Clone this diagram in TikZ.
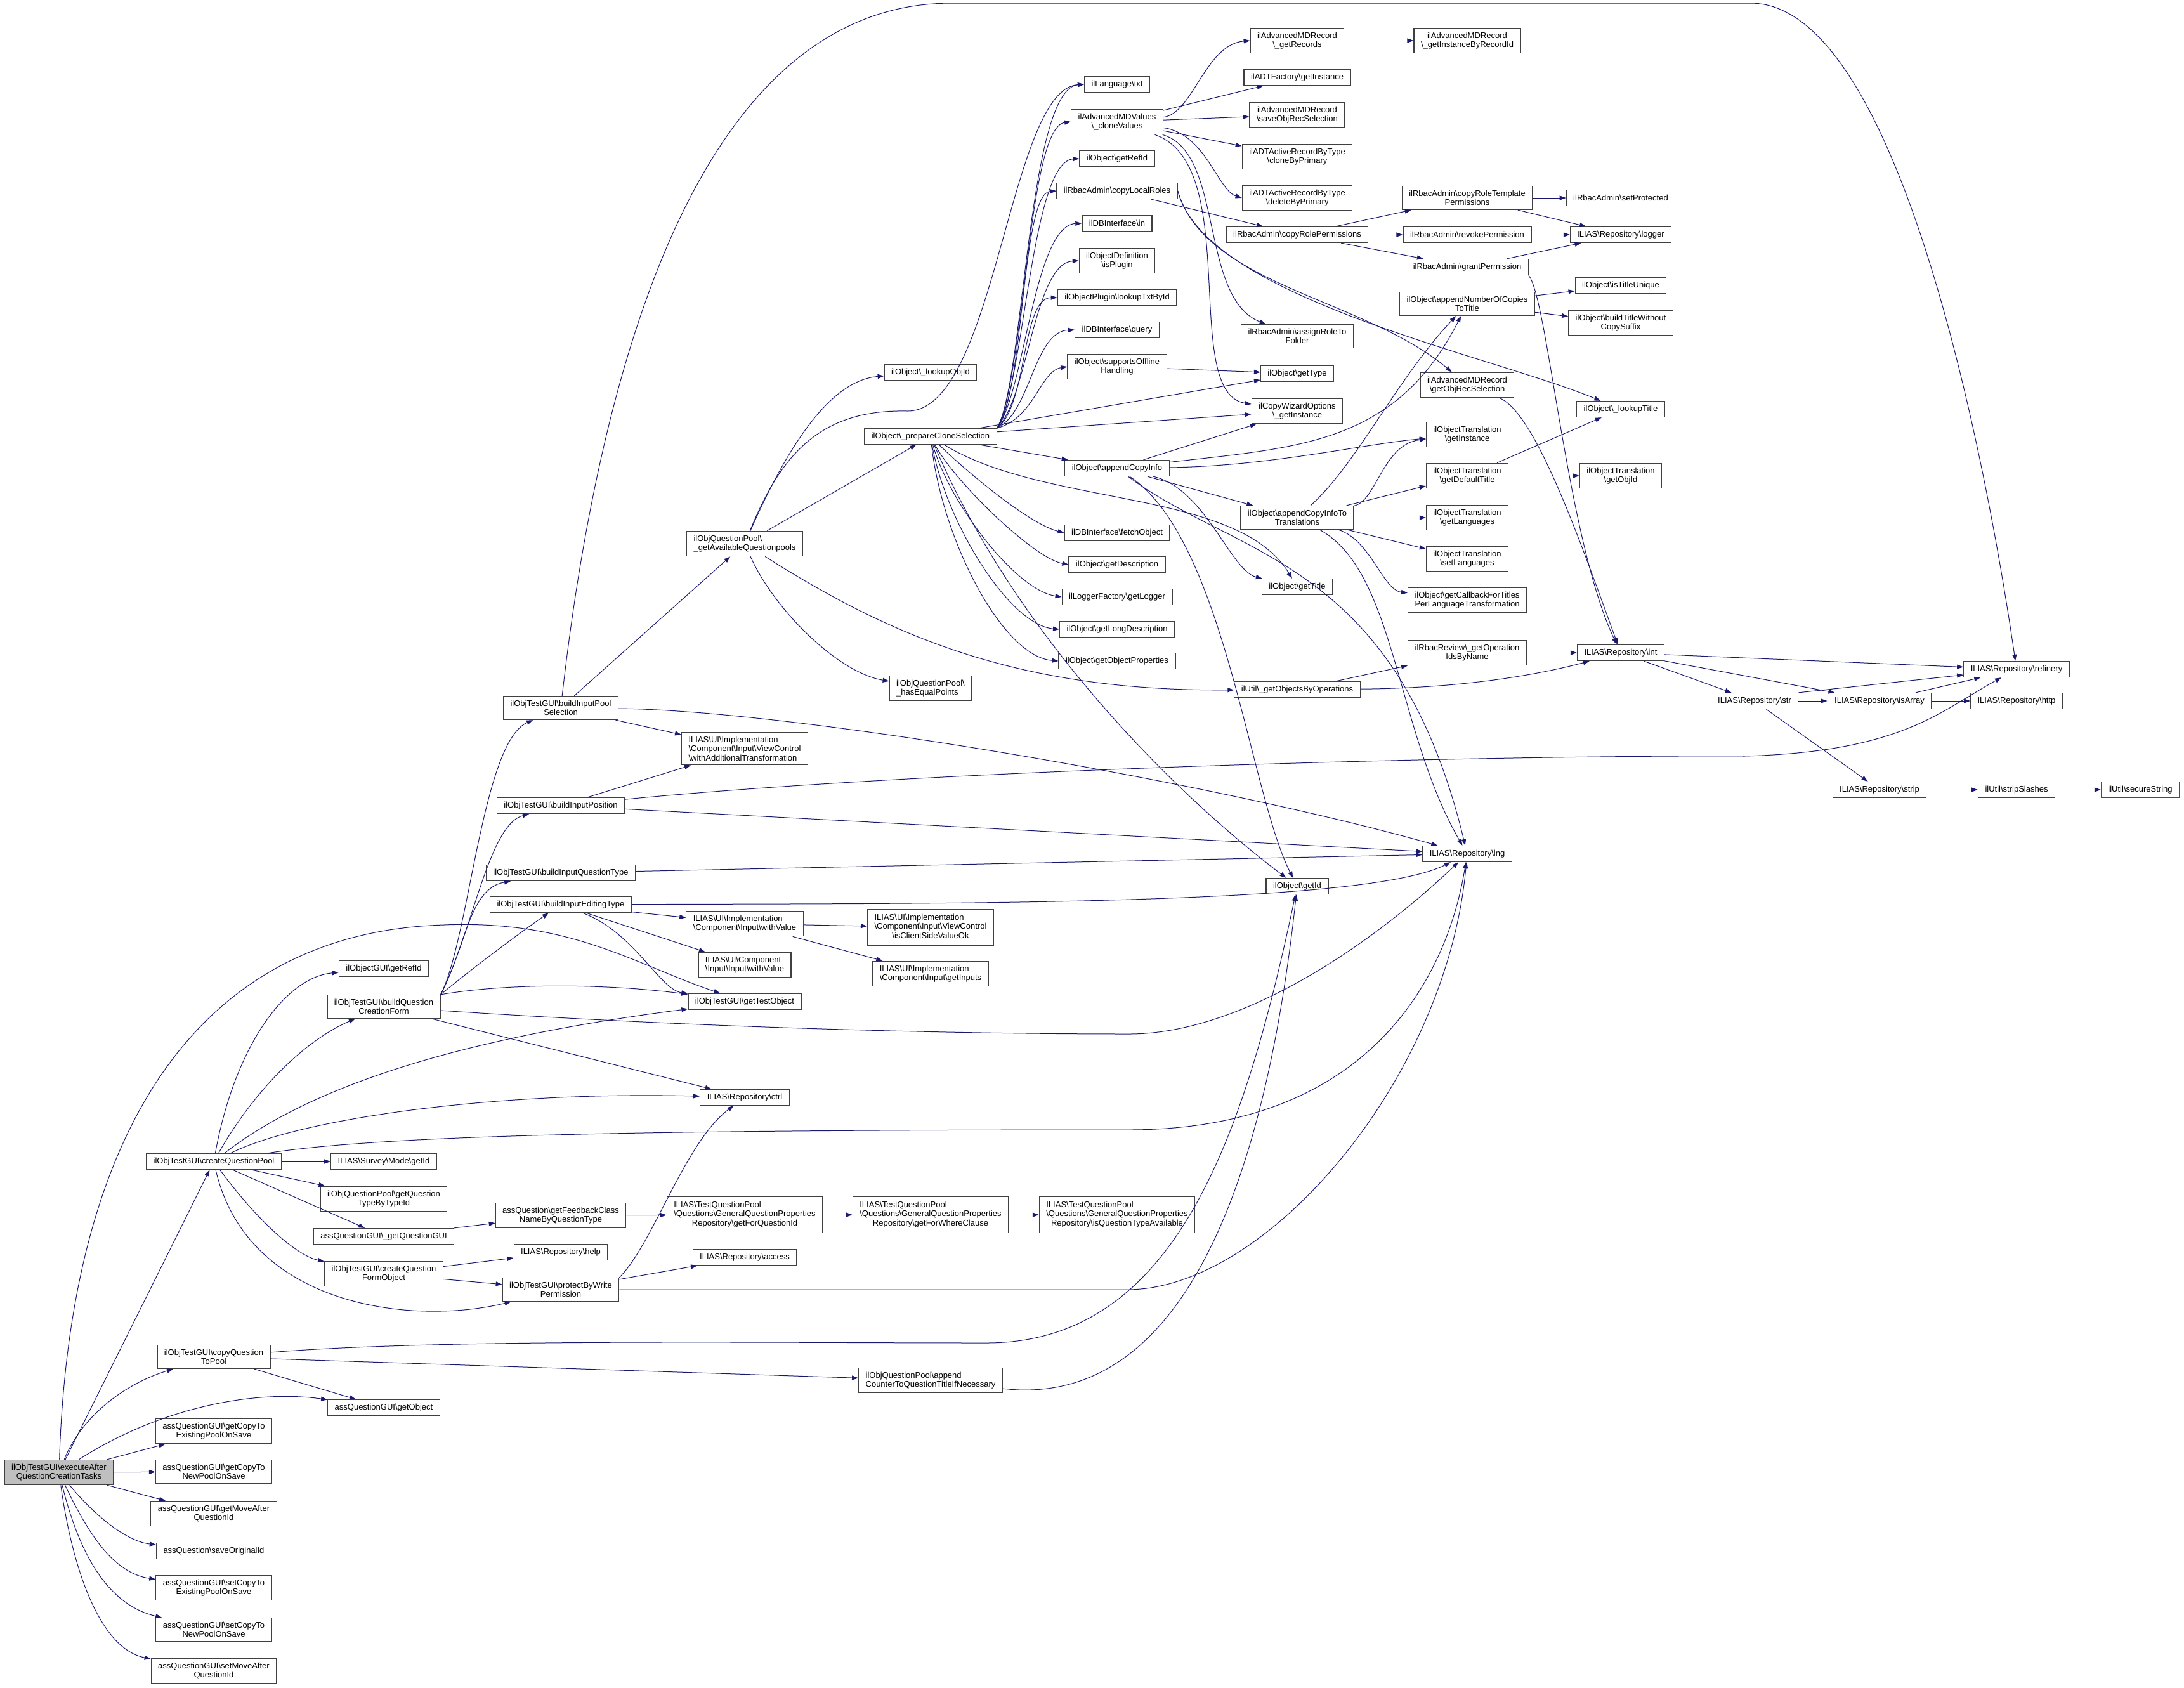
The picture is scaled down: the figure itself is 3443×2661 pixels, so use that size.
\documentclass[tikz,border=0pt]{standalone}
\usepackage{fontspec}
\setmainfont{Liberation Sans}
\usepackage{xcolor}
\usepackage{tikz}
\usetikzlibrary{arrows.meta, positioning}
\definecolor{DGedge}{RGB}{25,25,112}
\definecolor{DGframe}{RGB}{64,64,64}
\definecolor{DGroot}{RGB}{191,191,191}
\definecolor{DGred}{RGB}{255,0,0}
\newcommand{\bsl}{\textbackslash}
\newcommand{\lltc}[3]{\begin{tabular}{@{}l@{}}#1\\#2\\\multicolumn{1}{@{}c@{}}{#3}\end{tabular}}

\begin{document}
\begin{tikzpicture}[x=1pt, y=-1pt,
    fn/.style={draw=DGframe, line width=1.2pt, fill=white, align=center,
      font=\fontsize{13}{14.5}\selectfont, inner xsep=11pt, inner ysep=6.5pt,
      minimum height=25pt},
    fnl/.style={fn, align=left},
    rootfn/.style={fn, fill=DGroot},
    redfn/.style={fn, draw=DGred},
    call/.style={draw=DGedge, line width=1pt, -{Triangle[length=10pt,width=7pt]}}]
\useasboundingbox (0,0) rectangle (3443,2661);

\node[rootfn] (exec) at (93,2321) {ilObjTestGUI\bsl executeAfter\\QuestionCreationTasks};
\node[fn] (cqp) at (337,1831) {ilObjTestGUI\bsl createQuestionPool};
\node[fn] (cqtp) at (337,2139) {ilObjTestGUI\bsl copyQuestion\\ToPool};
\node[fn] (gcte) at (337,2256) {assQuestionGUI\bsl getCopyTo\\ExistingPoolOnSave};
\node[fn] (gctn) at (337,2320) {assQuestionGUI\bsl getCopyTo\\NewPoolOnSave};
\node[fn] (gmaq) at (337,2386) {assQuestionGUI\bsl getMoveAfter\\QuestionId};
\node[fn] (soid) at (337,2445) {assQuestion\bsl saveOriginalId};
\node[fn] (scte) at (337,2503) {assQuestionGUI\bsl setCopyTo\\ExistingPoolOnSave};
\node[fn] (sctn) at (337,2569) {assQuestionGUI\bsl setCopyTo\\NewPoolOnSave};
\node[fn] (smaq) at (337,2634) {assQuestionGUI\bsl setMoveAfter\\QuestionId};

\node[fn] (ogrid) at (605,1527) {ilObjectGUI\bsl getRefId};
\node[fn] (bqcf) at (605,1587) {ilObjTestGUI\bsl buildQuestion\\CreationForm};
\node[fn] (smgid) at (605,1831) {ILIAS\bsl Survey\bsl Mode\bsl getId};
\node[fn] (gqtt) at (605,1890) {ilObjQuestionPool\bsl getQuestion\\TypeByTypeId};
\node[fn] (gqgui) at (605,1949) {assQuestionGUI\bsl\_getQuestionGUI};
\node[fn] (cqfo) at (605,2008) {ilObjTestGUI\bsl createQuestion\\FormObject};
\node[fn] (gobj) at (605,2219) {assQuestionGUI\bsl getObject};

\node[fn] (bips) at (884,1116) {ilObjTestGUI\bsl buildInputPool\\Selection};
\node[fn] (bipo) at (884,1270) {ilObjTestGUI\bsl buildInputPosition};
\node[fn] (biqt) at (884,1376) {ilObjTestGUI\bsl buildInputQuestionType};
\node[fn] (biet) at (884,1426) {ilObjTestGUI\bsl buildInputEditingType};
\node[fn] (gfcn) at (884,1916) {assQuestion\bsl getFeedbackClass\\NameByQuestionType};
\node[fn] (help) at (884,1974) {ILIAS\bsl Repository\bsl help};
\node[fn] (pbw) at (884,2033) {ilObjTestGUI\bsl protectByWrite\\Permission};

\node[fnl] (gaqp) at (1174,857) {ilObjQuestionPool\bsl\\\_getAvailableQuestionpools};
\node[fnl] (wat) at (1174,1180) {ILIAS\bsl UI\bsl Implementation\\\bsl Component\bsl Input\bsl ViewControl\\\bsl withAdditionalTransformation};
\node[fnl] (iwv) at (1174,1456) {ILIAS\bsl UI\bsl Implementation\\\bsl Component\bsl Input\bsl withValue};
\node[fnl] (ciwv) at (1174,1521) {ILIAS\bsl UI\bsl Component\\\bsl Input\bsl Input\bsl withValue};
\node[fn] (gto) at (1174,1579) {ilObjTestGUI\bsl getTestObject};
\node[fn] (ctrl) at (1174,1730) {ILIAS\bsl Repository\bsl ctrl};
\node[fn] (gfqi) at (1174,1915) {\lltc{ILIAS\bsl TestQuestionPool}{\bsl Questions\bsl GeneralQuestionProperties}{Repository\bsl getForQuestionId}};
\node[fn] (acc) at (1174,1982) {ILIAS\bsl Repository\bsl access};

\node[fn] (lobj) at (1467,587) {ilObject\bsl\_lookupObjId};
\node[fn] (pcs) at (1467,688) {ilObject\bsl\_prepareCloneSelection};
\node[fnl] (hep) at (1467,1085) {ilObjQuestionPool\bsl\\\_hasEqualPoints};
\node[fn] (csvo) at (1467,1462) {\lltc{ILIAS\bsl UI\bsl Implementation}{\bsl Component\bsl Input\bsl ViewControl}{\bsl isClientSideValueOk}};
\node[fnl] (ginp) at (1467,1535) {ILIAS\bsl UI\bsl Implementation\\\bsl Component\bsl Input\bsl getInputs};
\node[fn] (gfwc) at (1467,1915) {\lltc{ILIAS\bsl TestQuestionPool}{\bsl Questions\bsl GeneralQuestionProperties}{Repository\bsl getForWhereClause}};
\node[fnl] (apc) at (1467,2176) {ilObjQuestionPool\bsl append\\CounterToQuestionTitleIfNecessary};

\node[fn] (txt) at (1761,133) {ilLanguage\bsl txt};
\node[fn] (clv) at (1761,192) {ilAdvancedMDValues\\\bsl\_cloneValues};
\node[fn] (orid) at (1761,250) {ilObject\bsl getRefId};
\node[fn] (clr) at (1761,301) {ilRbacAdmin\bsl copyLocalRoles};
\node[fn] (dbin) at (1761,352) {ilDBInterface\bsl in};
\node[fn] (isp) at (1761,411) {ilObjectDefinition\\\bsl isPlugin};
\node[fn] (ltbi) at (1761,469) {ilObjectPlugin\bsl lookupTxtById};
\node[fn] (dbq) at (1761,520) {ilDBInterface\bsl query};
\node[fn] (soh) at (1761,578) {ilObject\bsl supportsOffline\\Handling};
\node[fn] (aci) at (1761,738) {ilObject\bsl appendCopyInfo};
\node[fn] (fobj) at (1761,840) {ilDBInterface\bsl fetchObject};
\node[fn] (gdesc) at (1761,890) {ilObject\bsl getDescription};
\node[fn] (glog) at (1761,941) {ilLoggerFactory\bsl getLogger};
\node[fn] (gldesc) at (1761,992) {ilObject\bsl getLongDescription};
\node[fn] (gop) at (1761,1042) {ilObject\bsl getObjectProperties};
\node[fn] (iqta) at (1761,1915) {\lltc{ILIAS\bsl TestQuestionPool}{\bsl Questions\bsl GeneralQuestionProperties}{Repository\bsl isQuestionTypeAvailable}};

\node[fn] (grec) at (2045,64) {ilAdvancedMDRecord\\\bsl\_getRecords};
\node[fn] (adtf) at (2045,122) {ilADTFactory\bsl getInstance};
\node[fn] (sors) at (2045,181) {ilAdvancedMDRecord\\\bsl saveObjRecSelection};
\node[fn] (cbp) at (2045,247) {ilADTActiveRecordByType\\\bsl cloneByPrimary};
\node[fn] (dbp) at (2045,312) {ilADTActiveRecordByType\\\bsl deleteByPrimary};
\node[fn] (crp) at (2045,370) {ilRbacAdmin\bsl copyRolePermissions};
\node[fn] (artf) at (2045,530) {ilRbacAdmin\bsl assignRoleTo\\Folder};
\node[fn] (gtype) at (2045,589) {ilObject\bsl getType};
\node[fn] (cwo) at (2045,648) {ilCopyWizardOptions\\\bsl\_getInstance};
\node[fn] (acit) at (2045,816) {ilObject\bsl appendCopyInfoTo\\Translations};
\node[fn] (gtitle) at (2045,925) {ilObject\bsl getTitle};
\node[fn] (gobo) at (2045,1087) {ilUtil\bsl\_getObjectsByOperations};
\node[fn] (gid) at (2045,1397) {ilObject\bsl getId};

\node[fn] (gibr) at (2313,64) {ilAdvancedMDRecord\\\bsl\_getInstanceByRecordId};
\node[fn] (crtp) at (2313,312) {ilRbacAdmin\bsl copyRoleTemplate\\Permissions};
\node[fn] (rvp) at (2313,370) {ilRbacAdmin\bsl revokePermission};
\node[fn] (grp) at (2313,421) {ilRbacAdmin\bsl grantPermission};
\node[fn] (anct) at (2313,479) {ilObject\bsl appendNumberOfCopies\\ToTitle};
\node[fn] (gors) at (2313,607) {ilAdvancedMDRecord\\\bsl getObjRecSelection};
\node[fn] (otgi) at (2313,685) {ilObjectTranslation\\\bsl getInstance};
\node[fn] (otdt) at (2313,750) {ilObjectTranslation\\\bsl getDefaultTitle};
\node[fn] (otgl) at (2313,816) {ilObjectTranslation\\\bsl getLanguages};
\node[fn] (otsl) at (2313,881) {ilObjectTranslation\\\bsl setLanguages};
\node[fn] (gcbt) at (2313,946) {ilObject\bsl getCallbackForTitles\\PerLanguageTransformation};
\node[fn] (goin) at (2313,1029) {ilRbacReview\bsl\_getOperation\\IdsByName};
\node[fn] (lng) at (2313,1346) {ILIAS\bsl Repository\bsl lng};

\node[fn] (sprot) at (2555,312) {ilRbacAdmin\bsl setProtected};
\node[fn] (logger) at (2555,370) {ILIAS\bsl Repository\bsl logger};
\node[fn] (itu) at (2555,450) {ilObject\bsl isTitleUnique};
\node[fn] (btwc) at (2555,509) {ilObject\bsl buildTitleWithout\\CopySuffix};
\node[fn] (ltit) at (2555,645) {ilObject\bsl\_lookupTitle};
\node[fn] (otoi) at (2555,750) {ilObjectTranslation\\\bsl getObjId};
\node[fn] (int) at (2555,1029) {ILIAS\bsl Repository\bsl int};

\node[fn] (str) at (2766,1105) {ILIAS\bsl Repository\bsl str};
\node[fn] (isarr) at (2963,1105) {ILIAS\bsl Repository\bsl isArray};
\node[fn] (strip) at (2963,1245) {ILIAS\bsl Repository\bsl strip};
\node[fn] (ref) at (3179,1055) {ILIAS\bsl Repository\bsl refinery};
\node[fn] (http) at (3179,1105) {ILIAS\bsl Repository\bsl http};
\node[fn] (sslash) at (3179,1245) {ilUtil\bsl stripSlashes};
\node[redfn] (sstr) at (3374,1245) {ilUtil\bsl secureString};

% calls of the root
\draw[call] (exec) .. controls (110,1800) and (300,1470) .. (700,1458) .. controls (900,1450) and (1000,1520) .. (gto);
\draw[call] (exec) -- (cqp);
\draw[call] (exec) .. controls (130,2230) and (200,2180) .. (cqtp);
\draw[call] (exec) .. controls (250,2220) and (400,2190) .. (gobj);
\draw[call] (exec) -- (gcte);
\draw[call] (exec) -- (gctn);
\draw[call] (exec) -- (gmaq);
\draw[call] (exec) .. controls (150,2390) and (200,2430) .. (soid);
\draw[call] (exec) .. controls (140,2420) and (180,2480) .. (scte);
\draw[call] (exec) .. controls (125,2450) and (170,2530) .. (sctn);
\draw[call] (exec) .. controls (115,2480) and (160,2600) .. (smaq);

\draw[call] (cqp) .. controls (370,1650) and (450,1540) .. (ogrid);
\draw[call] (cqp) .. controls (400,1720) and (480,1640) .. (bqcf);
\draw[call] (cqp) .. controls (480,1720) and (700,1640) .. (gto);
\draw[call] (cqp) .. controls (480,1760) and (800,1720) .. (ctrl);
\draw[call] (cqp) .. controls (600,1790) and (1000,1781) .. (1780,1781) .. controls (2150,1781) and (2280,1550) .. (lng);
\draw[call] (cqp) -- (smgid);
\draw[call] (cqp) -- (gqtt);
\draw[call] (cqp) -- (gqgui);
\draw[call] (cqp) .. controls (410,1930) and (470,1980) .. (cqfo);
\draw[call] (cqp) .. controls (390,2060) and (650,2090) .. (pbw);

\draw[call] (bqcf.north east) .. controls (740,1480) and (760,1170) .. (bips);
\draw[call] (bqcf.north east) .. controls (745,1470) and (770,1300) .. (bipo);
\draw[call] (bqcf.north east) .. controls (735,1490) and (740,1400) .. (biqt);
\draw[call] (bqcf.north east) .. controls (740,1530) and (820,1470) .. (biet);
\draw[call] (bqcf.north east) .. controls (800,1550) and (950,1550) .. (gto);
\draw[call] (bqcf) .. controls (1100,1620) and (1500,1630) .. (1780,1630) .. controls (1950,1630) and (2150,1500) .. (lng);
\draw[call] (bqcf) -- (ctrl);

\draw[call] (bips) -- (gaqp);
\draw[call] (bips) -- (wat);
\draw[call] (bips) .. controls (1250,1120) and (1900,1230) .. (lng);
\draw[call] (bips) .. controls (960,450) and (1150,5) .. (1500,5) -- (2760,5) .. controls (2980,5) and (3120,650) .. (ref);
\draw[call] (bipo) -- (wat);
\draw[call] (bipo) .. controls (1500,1210) and (2400,1190) .. (2750,1192) .. controls (3000,1185) and (3060,1120) .. (ref);
\draw[call] (bipo) -- (lng);
\draw[call] (biqt) -- (lng);
\draw[call] (biet) .. controls (1500,1424) and (2150,1428) .. (lng);
\draw[call] (biet) -- (iwv);
\draw[call] (biet) -- (ciwv);
\draw[call] (biet) .. controls (1000,1470) and (1040,1560) .. (gto);

\draw[call] (gqgui) -- (gfcn);
\draw[call] (gfcn) -- (gfqi);
\draw[call] (gfqi) -- (gfwc);
\draw[call] (gfwc) -- (iqta);
\draw[call] (cqfo) -- (help);
\draw[call] (cqfo) -- (pbw);
\draw[call] (pbw.north east) .. controls (1030,1960) and (1080,1800) .. (ctrl);
\draw[call] (pbw) -- (acc);
\draw[call] (pbw) .. controls (1200,2033) and (1500,2033) .. (1780,2033) .. controls (2000,2030) and (2280,1700) .. (lng);
\draw[call] (cqtp) -- (gobj);
\draw[call] (cqtp) -- (apc);
\draw[call] (cqtp) .. controls (700,2110) and (1200,2117) .. (1555,2117) .. controls (1850,2117) and (1960,1800) .. (gid);
\draw[call] (apc) .. controls (1850,2220) and (1990,1900) .. (gid);
\draw[call] (iwv) -- (csvo);
\draw[call] (iwv) -- (ginp);

\draw[call] (gaqp) .. controls (1230,730) and (1300,600) .. (lobj);
\draw[call] (gaqp) .. controls (1230,720) and (1290,645) .. (1430,648) .. controls (1570,650) and (1590,140) .. (txt.west);
\draw[call] (gaqp) -- (pcs);
\draw[call] (gaqp) .. controls (1220,960) and (1320,1060) .. (hep);
\draw[call] (gaqp) .. controls (1400,1000) and (1600,1090) .. (gobo);

% clone selection
\draw[call] (pcs.north east) .. controls (1615,600) and (1620,140) .. (txt.west);
\draw[call] (pcs.north east) .. controls (1615,600) and (1620,200) .. (clv.west);
\draw[call] (pcs.north east) .. controls (1615,610) and (1625,255) .. (orid.west);
\draw[call] (pcs.north east) .. controls (1615,620) and (1610,305) .. (clr.west);
\draw[call] (pcs.north east) .. controls (1615,620) and (1630,355) .. (dbin.west);
\draw[call] (pcs.north east) .. controls (1620,630) and (1630,415) .. (isp.west);
\draw[call] (pcs.north east) .. controls (1620,640) and (1610,470) .. (ltbi.west);
\draw[call] (pcs.north east) .. controls (1625,650) and (1630,522) .. (dbq.west);
\draw[call] (pcs.north east) .. controls (1630,660) and (1640,585) .. (soh.west);
\draw[call] (pcs) -- (gtype);
\draw[call] (pcs) -- (cwo);
\draw[call] (pcs) -- (aci);
\draw[call] (pcs) .. controls (1520,740) and (1620,825) .. (fobj.west);
\draw[call] (pcs) .. controls (1505,760) and (1630,880) .. (gdesc.west);
\draw[call] (pcs) .. controls (1495,790) and (1600,930) .. (glog.west);
\draw[call] (pcs) .. controls (1490,820) and (1590,985) .. (gldesc.west);
\draw[call] (pcs) .. controls (1485,850) and (1580,1035) .. (gop.west);
\draw[call] (pcs) .. controls (1650,800) and (1950,770) .. (gtitle);
\draw[call] (pcs) .. controls (1600,1000) and (1850,1250) .. (gid);

\draw[call] (clv) .. controls (1880,180) and (1900,70) .. (grec.west);
\draw[call] (clv) -- (adtf);
\draw[call] (clv) -- (sors);
\draw[call] (clv) -- (cbp);
\draw[call] (clv) .. controls (1900,210) and (1920,300) .. (dbp.west);
\draw[call] (clv) .. controls (1930,240) and (1890,470) .. (artf);
\draw[call] (clv) .. controls (1960,260) and (1860,620) .. (cwo);
\draw[call] (clr) -- (crp);
\draw[call] (clr.east) .. controls (1900,450) and (2150,470) .. (gors);
\draw[call] (clr.east) .. controls (1900,470) and (2350,560) .. (ltit);
\draw[call] (soh) -- (gtype);

\draw[call] (aci) -- (cwo);
\draw[call] (aci) .. controls (2050,705) and (2200,700) .. (anct);
\draw[call] (aci) .. controls (2000,735) and (2150,700) .. (otgi);
\draw[call] (aci) -- (acit);
\draw[call] (aci) .. controls (1900,770) and (1940,900) .. (gtitle);
\draw[call] (aci) .. controls (1930,850) and (1970,1250) .. (gid);
\draw[call] (aci) .. controls (1950,880) and (2200,880) .. (lng);
\draw[call] (acit) .. controls (2140,730) and (2200,600) .. (anct);
\draw[call] (acit) .. controls (2170,790) and (2180,700) .. (otgi);
\draw[call] (acit) -- (otdt);
\draw[call] (acit) -- (otgl);
\draw[call] (acit) -- (otsl);
\draw[call] (acit) .. controls (2160,850) and (2180,930) .. (gcbt);
\draw[call] (acit) .. controls (2200,900) and (2200,1150) .. (lng);
\draw[call] (otdt) -- (ltit);
\draw[call] (otdt) -- (otoi);
\draw[call] (anct) -- (itu);
\draw[call] (anct) -- (btwc);

\draw[call] (crp) -- (crtp);
\draw[call] (crp) -- (rvp);
\draw[call] (crp) -- (grp);
\draw[call] (crtp) -- (sprot);
\draw[call] (crtp) -- (logger);
\draw[call] (rvp) -- (logger);
\draw[call] (grp) -- (logger);
\draw[call] (grp.south east) .. controls (2440,470) and (2470,850) .. (int);
\draw[call] (gors) .. controls (2420,650) and (2490,850) .. (int);
\draw[call] (grec) -- (gibr);
\draw[call] (gobo) -- (goin);
\draw[call] (gobo) .. controls (2300,1085) and (2420,1065) .. (int);
\draw[call] (goin) -- (int);

\draw[call] (int) -- (ref);
\draw[call] (int) -- (str);
\draw[call] (int) -- (isarr);
\draw[call] (str) -- (isarr);
\draw[call] (str) -- (strip);
\draw[call] (str.north east) -- (ref);
\draw[call] (isarr) -- (http);
\draw[call] (isarr) -- (ref);
\draw[call] (strip) -- (sslash);
\draw[call] (sslash) -- (sstr);
\end{tikzpicture}
\end{document}
